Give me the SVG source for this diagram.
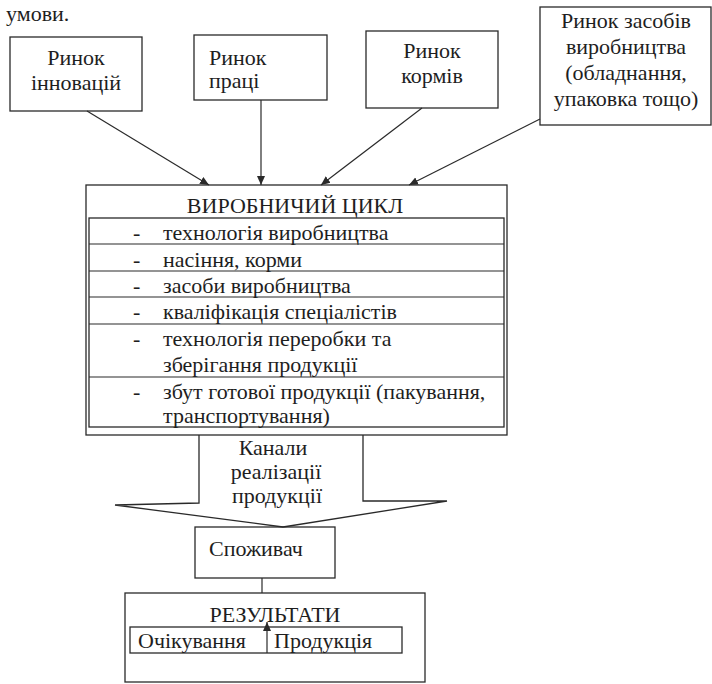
<svg xmlns="http://www.w3.org/2000/svg" width="712" height="684" viewBox="0 0 712 684">
<defs>
<style>
.b{fill:none;stroke:#2a2a2a;stroke-width:1.3}
.l{fill:none;stroke:#2a2a2a;stroke-width:1.2}
text{font-family:"Liberation Serif","Times New Roman",serif;font-size:22px;fill:#1e1e1e}
.c{text-anchor:middle}
</style>
<marker id="ah" markerWidth="10" markerHeight="10" refX="9" refY="5" orient="auto" markerUnits="userSpaceOnUse">
<path d="M0,1 L9,5 L0,9 Z" fill="#2a2a2a"/>
</marker>
</defs>
<rect width="712" height="684" fill="#fff"/>
<text x="6" y="21">умови.</text>

<g id="n1"><rect class="b" x="10" y="37" width="132" height="74"/>
<text class="c" x="76" y="65">Ринок</text><text class="c" x="76" y="90">інновацій</text></g>
<g id="n2"><rect class="b" x="194" y="35" width="133" height="65"/>
<text x="209" y="65">Ринок</text><text x="209" y="88">праці</text></g>
<g id="n3"><rect class="b" x="366" y="31" width="132" height="77"/>
<text class="c" x="432" y="58">Ринок</text><text class="c" x="432" y="83">кормів</text></g>
<g id="n4"><rect class="b" x="540" y="7" width="171" height="118"/>
<text class="c" x="626" y="28">Ринок засобів</text><text class="c" x="626" y="54">виробництва</text><text class="c" x="626" y="80">(обладнання,</text><text class="c" x="626" y="106">упаковка тощо)</text></g>

<g id="cycle">
<rect class="b" x="86" y="185" width="421" height="250"/>
<text class="c" x="295" y="213">ВИРОБНИЧИЙ ЦИКЛ</text>
<rect class="b" x="89" y="218" width="415" height="209"/>
<line class="l" x1="89" y1="244" x2="504" y2="244"/>
<line class="l" x1="89" y1="271" x2="504" y2="271"/>
<line class="l" x1="89" y1="297" x2="504" y2="297"/>
<line class="l" x1="89" y1="324" x2="504" y2="324"/>
<line class="l" x1="89" y1="377" x2="504" y2="377"/>
<text x="133" y="240">-</text><text x="163" y="240">технологія виробництва</text>
<text x="133" y="267">-</text><text x="163" y="267">насіння, корми</text>
<text x="133" y="293">-</text><text x="163" y="293">засоби виробництва</text>
<text x="133" y="319">-</text><text x="163" y="319">кваліфікація спеціалістів</text>
<text x="133" y="346">-</text><text x="163" y="346">технологія переробки та</text>
<text x="163" y="372">зберігання продукції</text>
<text x="133" y="399">-</text><text x="163" y="399">збут готової продукції (пакування,</text>
<text x="163" y="423">транспортування)</text>
</g>

<g id="channels">
<path class="b" d="M199,435 L199,503 L115,505 L283,527 L447,501 L363,501 L363,435"/>
<text class="c" x="273" y="455">Канали</text>
<text class="c" x="276" y="479">реалізації</text>
<text class="c" x="277" y="503">продукції</text>
</g>

<g id="consumer"><rect class="b" x="195" y="527" width="140" height="51"/>
<text x="209" y="556">Споживач</text></g>

<g id="results">
<rect class="b" x="125" y="593" width="300" height="89"/>
<text class="c" x="275" y="622">РЕЗУЛЬТАТИ</text>
<rect class="b" x="130" y="627" width="272" height="26"/>
<text x="138" y="648">Очікування</text>
<text x="274" y="648">Продукція</text>
</g>

<g id="connectors">
<line class="l" x1="87" y1="111" x2="209" y2="185" marker-end="url(#ah)"/>
<line class="l" x1="261" y1="100" x2="261" y2="185" marker-end="url(#ah)"/>
<line class="l" x1="422" y1="108" x2="321" y2="185" marker-end="url(#ah)"/>
<line class="l" x1="540" y1="119" x2="409" y2="185" marker-end="url(#ah)"/>
<line class="l" x1="262" y1="578" x2="262" y2="593"/>
<line class="l" x1="267" y1="653" x2="267" y2="622" marker-end="url(#ah)"/>
</g>
</svg>
